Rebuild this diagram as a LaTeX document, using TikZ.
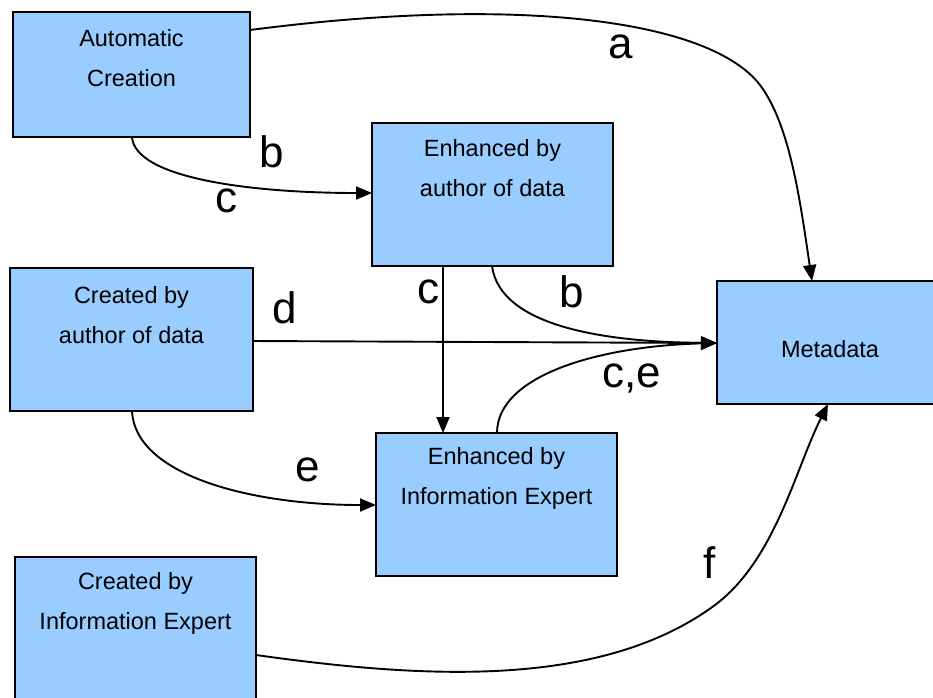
\documentclass[tikz,border=0pt]{standalone}
\usepackage{fontspec}
\setmainfont{Liberation Sans}
\usetikzlibrary{arrows.meta}
\definecolor{boxblue}{HTML}{99CCFF}
\tikzset{
  x=1pt, y=-1pt,
  box/.style={draw=black, line width=1.5pt, fill=boxblue},
  boxtext/.style={align=center, font=\fontsize{23.5}{40}\selectfont, inner sep=0pt},
  flow/.style={line width=1.9pt, -{Triangle[length=16pt,width=13pt]}},
  lbl/.style={inner sep=0pt, font=\fontsize{44}{44}\selectfont},
}
\begin{document}
\begin{tikzpicture}
\useasboundingbox (0,0) rectangle (933,697);

% boxes
\draw[box] (13,12) rectangle (250,137);
\draw[box] (372,123) rectangle (613,266);
\draw[box] (10,268) rectangle (253,411);
\draw[box] (717,281) rectangle (945,404);
\draw[box] (376,433) rectangle (617,576);
\draw[box] (15,557) rectangle (256,710);

% box captions
\node[boxtext] (autoT) at (131.5,58) {Automatic\\Creation};
\node[boxtext] (enhA) at (492.5,168) {Enhanced by\\author of data};
\node[boxtext] (creA) at (131.5,315) {Created by\\author of data};
\node[boxtext] (meta) at (830,349) {Metadata};
\node[boxtext] (enhI) at (496.5,478) {Enhanced by\\Information Expert};
\node[boxtext] (creI) at (135.5,603) {Created by\\Information Expert};

% connector end points on the box edges
\coordinate (autoR) at (250,30);
\coordinate (autoB) at (132,137);
\coordinate (enhAL) at (372,193);
\coordinate (enhAB1) at (443,266);
\coordinate (enhAB2) at (492,266);
\coordinate (creAR) at (253,341);
\coordinate (creAB) at (132,411);
\coordinate (metaT) at (812,281);
\coordinate (metaL) at (717,343);
\coordinate (metaB) at (828,404);
\coordinate (enhIT1) at (443,433);
\coordinate (enhIT2) at (497,433);
\coordinate (enhIL) at (376,505);
\coordinate (creIR) at (256,655);

% connectors
\draw[flow] (autoR) .. controls (520,-5) and (710,20) .. (760,85)
                    .. controls (790,125) and (800,200) .. (metaT);
\draw[flow] (autoB) .. controls (135,178) and (250,193) .. (enhAL);
\draw[flow] (enhAB2) .. controls (500,325) and (600,342) .. (metaL);
\draw[flow] (enhAB1) -- (enhIT1);
\draw[flow] (creAR) -- (metaL);
\draw[flow] (enhIT2) .. controls (497,375) and (600,346) .. (metaL);
\draw[flow] (creAB) .. controls (135,475) and (250,505) .. (enhIL);
\draw[flow] (creIR) .. controls (420,678) and (600,690) .. (715,605)
                    .. controls (775,560) and (795,470) .. (metaB);

% connector labels
\node[lbl] (la) at (621,47) {a};
\node[lbl] (lb1) at (272,152) {b};
\node[lbl] (lc1) at (226,201) {c};
\node[lbl] (lc2) at (428,292) {c};
\node[lbl] (lb2) at (572,292) {b};
\node[lbl] (ld) at (285,308) {d};
\node[lbl] (lce) at (632,378) {c,e};
\node[lbl] (le) at (308,470) {e};
\node[lbl] (lf) at (710,563) {f};
\end{tikzpicture}
\end{document}
